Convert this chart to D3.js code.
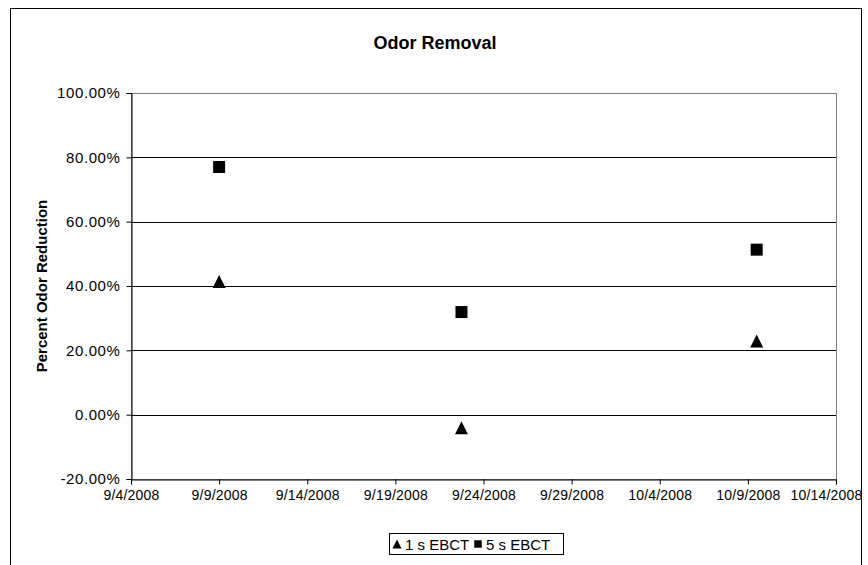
<!DOCTYPE html>
<html>
<head>
<meta charset="utf-8">
<script src="https://cdn.jsdelivr.net/npm/d3@7"></script>
<style>
  body { margin: 0; background: #fff; }
  svg text { font-family: "Liberation Sans", Arial, sans-serif; }
</style>
</head>
<body>
<div id="chart"></div>
<script>
// chart data
const sampleDates = ['2008-09-09 00:00', '2008-09-22 18:00', '2008-10-09 12:00']
const ebct1s = [0.414, -0.041, 0.229]
const ebct5s = [0.770, 0.319, 0.513]
const seriesNames = ['1 s EBCT', '5 s EBCT']

const xTickLabels = ['9/4/2008', '9/9/2008', '9/14/2008', '9/19/2008', '9/24/2008',
    '9/29/2008', '10/4/2008', '10/9/2008', '10/14/2008']
const yTicks = [-0.2, 0, 0.2, 0.4, 0.6, 0.8, 1.0]

const [width, height] = [868, 565]
const plot = { left: 131, right: 836, top: 93, bottom: 479 }

const parseSample = d3.timeParse('%Y-%m-%d %H:%M')
const parseTick = d3.timeParse('%m/%d/%Y')
const xTicks = xTickLabels.map(parseTick)

// percent with a plain hyphen for negatives, like the original
const pct = d3.formatLocale({ decimal: '.', thousands: ',', grouping: [3], currency: ['$', ''], minus: '-' }).format('.2%')

const svg = d3.select('#chart').append('svg')
    .attr('width', width)
    .attr('height', height)

// outer chart border
svg.append('rect')
    .attr('x', 10.5).attr('y', 8.5)
    .attr('width', 851).attr('height', 580)
    .attr('fill', 'none')
    .attr('stroke', '#000')

const x = d3.scaleTime()
    .domain([xTicks[0], xTicks[xTicks.length - 1]])
    .range([plot.left, plot.right])

const y = d3.scaleLinear()
    .domain([-0.2, 1.0])
    .range([plot.bottom, plot.top])

// plot area border
svg.append('rect')
    .attr('x', plot.left + 0.5).attr('y', plot.top + 0.5)
    .attr('width', plot.right - plot.left).attr('height', plot.bottom - plot.top)
    .attr('fill', 'none')
    .attr('stroke', '#808080')

// gridlines
svg.append('g')
    .selectAll('line')
    .data(yTicks.filter(d => d > -0.2 && d < 1.0))
    .join('line')
    .attr('x1', plot.left).attr('x2', plot.right)
    .attr('y1', d => Math.round(y(d)) + 0.5)
    .attr('y2', d => Math.round(y(d)) + 0.5)
    .attr('stroke', '#000')

// y axis
const yAxis = svg.append('g')
    .attr('transform', `translate(${plot.left + 0.5},0)`)
    .call(d3.axisLeft(y).tickValues(yTicks).tickFormat(pct).tickSize(5).tickPadding(6))
yAxis.select('.domain').attr('stroke', '#000')
yAxis.selectAll('.tick line').attr('stroke', '#000')
yAxis.selectAll('text').attr('font-size', 15).attr('letter-spacing', 0.6).attr('fill', '#000')

// x axis
const xAxis = svg.append('g')
    .attr('transform', `translate(0,${plot.bottom + 0.5})`)
    .call(d3.axisBottom(x).tickValues(xTicks).tickFormat((d, i) => xTickLabels[i]).tickSize(5).tickPadding(6))
xAxis.select('.domain').attr('stroke', '#000')
xAxis.selectAll('.tick line').attr('stroke', '#000')
xAxis.selectAll('text').attr('font-size', 14).attr('letter-spacing', 0.2).attr('fill', '#000')
// last label is pushed left so it stays inside the chart border
xAxis.selectAll('.tick:last-of-type text')
    .attr('text-anchor', 'end')
    .attr('x', 862 - plot.right)

// marker shapes
const triangle = {
    draw(context, size) {
        const r = Math.sqrt(size) / 2
        context.moveTo(0, -r)
        context.lineTo(r, r)
        context.lineTo(-r, r)
        context.closePath()
    }
}

const points1 = sampleDates.map((d, i) => ({ date: parseSample(d), value: ebct1s[i] }))
const points5 = sampleDates.map((d, i) => ({ date: parseSample(d), value: ebct5s[i] }))

svg.append('g')
    .selectAll('path')
    .data(points1)
    .join('path')
    .attr('d', d3.symbol(triangle, 169))
    .attr('transform', d => `translate(${x(d.date)},${y(d.value)})`)
    .attr('fill', '#000')

svg.append('g')
    .selectAll('path')
    .data(points5)
    .join('path')
    .attr('d', d3.symbol(d3.symbolSquare, 144))
    .attr('transform', d => `translate(${x(d.date)},${y(d.value)})`)
    .attr('fill', '#000')

// title
svg.append('text')
    .attr('x', 435).attr('y', 49)
    .attr('text-anchor', 'middle')
    .attr('font-size', 18)
    .attr('font-weight', 'bold')
    .text('Odor Removal')

// y axis title
svg.append('text')
    .attr('transform', `translate(47,${(plot.top + plot.bottom) / 2}) rotate(-90)`)
    .attr('text-anchor', 'middle')
    .attr('font-size', 15)
    .attr('font-weight', 'bold')
    .text('Percent Odor Reduction')

// legend
const legend = svg.append('g').attr('transform', 'translate(389,533)')
legend.append('rect')
    .attr('x', 0.5).attr('y', 0.5)
    .attr('width', 174).attr('height', 21)
    .attr('fill', '#fff')
    .attr('stroke', '#000')

const legendItems = [
    { name: seriesNames[0], shape: d3.symbol(triangle, 81), x: 8 },
    { name: seriesNames[1], shape: d3.symbol(d3.symbolSquare, 56), x: 89 }
]
const item = legend.selectAll('g.item')
    .data(legendItems)
    .join('g')
    .attr('class', 'item')
    .attr('transform', d => `translate(${d.x},11)`)
item.append('path')
    .attr('d', d => d.shape())
    .attr('fill', '#000')
item.append('text')
    .attr('x', 8).attr('y', 5.5)
    .attr('font-size', 15)
    .text(d => d.name)
</script>
</body>
</html>
